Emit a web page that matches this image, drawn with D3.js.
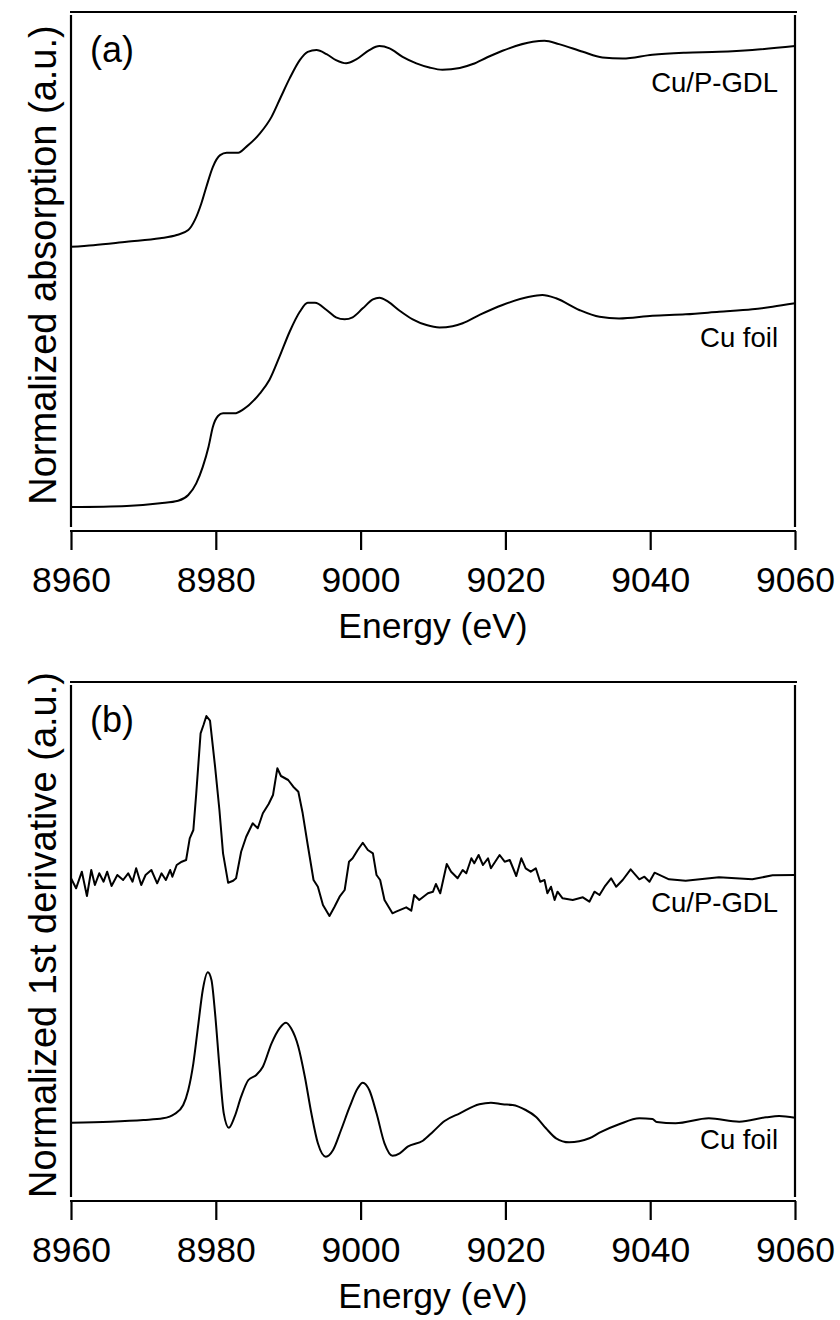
<!DOCTYPE html>
<html>
<head>
<meta charset="utf-8">
<script src="https://cdn.jsdelivr.net/npm/d3@7"></script>
<style>
  body { margin: 0; background: #fff; }
  svg text { font-family: "Liberation Sans", Arial, Helvetica, sans-serif; fill: #000; }
</style>
</head>
<body>
<div id="wrapper"></div>
<script>
// energy axis ticks
const energyTicks = [8960, 8980, 9000, 9020, 9040, 9060];

// (a) XANES, Cu foil
const foilXanesE = [8960, 8967.7, 8972.3, 8974.8, 8976.2, 8977.3, 8978.2, 8979, 8979.6, 8980.3, 8981, 8982.6, 8983.8,
  8986.1, 8987.4, 8988.8, 8990.2, 8991.6, 8992.7, 8993.7, 8995.3, 8996.6, 8997.8, 8998.9, 9000.3, 9001.7, 9002.6,
  9003.8, 9005.4, 9007.2, 9009.1, 9010.9, 9012.7, 9014.1, 9016.5, 9019.6, 9023.3, 9025.1, 9027, 9030.2, 9033, 9035.7,
  9040.3, 9044.9, 9049.5, 9054.1, 9056.9, 9060];
const foilXanesMu = [0.011, 0.017, 0.032, 0.046, 0.078, 0.143, 0.235, 0.347, 0.458, 0.518, 0.533, 0.533, 0.555,
  0.644, 0.718, 0.848, 0.987, 1.098, 1.148, 1.148, 1.108, 1.067, 1.056, 1.067, 1.117, 1.167, 1.176,
  1.154, 1.104, 1.056, 1.024, 1.011, 1.018, 1.034, 1.082, 1.136, 1.182, 1.191, 1.173, 1.108, 1.070, 1.061,
  1.076, 1.084, 1.098, 1.112, 1.126, 1.145];

// (a) XANES, Cu/P-GDL
const gdlXanesE = [8960, 8963.1, 8967.7, 8972.3, 8974.6, 8976.2, 8977.1, 8978, 8978.7, 8979.6, 8980.6, 8981.5, 8983.1,
  8984.2, 8986.1, 8987.7, 8989, 8990.2, 8991.6, 8992.7, 8993.9, 8995.3, 8996.6, 8998, 8999.4, 9001.2, 9002.6,
  9004, 9005.8, 9007.7, 9009.5, 9011.3, 9013.7, 9015.5, 9017.5, 9019.6, 9023.8, 9025.4, 9027.4, 9030.7, 9033.4, 9036.2,
  9040.3, 9044.9, 9049.5, 9054.1, 9060];
const gdlXanesMu = [0.013, 0.022, 0.041, 0.060, 0.078, 0.106, 0.161, 0.254, 0.347, 0.458, 0.523, 0.536, 0.536,
  0.569, 0.644, 0.736, 0.848, 0.950, 1.052, 1.098, 1.108, 1.085, 1.052, 1.034, 1.056, 1.108, 1.130,
  1.117, 1.070, 1.034, 1.011, 0.998, 1.008, 1.030, 1.068, 1.104, 1.154, 1.159, 1.141, 1.098, 1.067, 1.061,
  1.082, 1.093, 1.098, 1.108, 1.130];

// (b) first derivative, Cu foil
const foilDerivE = [8960, 8965.4, 8970, 8972.7, 8974.3, 8975.5, 8976.2, 8976.9, 8977.6, 8978.2, 8978.9, 8979.4, 8979.9,
  8980.5, 8981.1, 8981.8, 8982.6, 8983.5, 8984.5, 8985.6, 8986.5, 8987.7, 8988.8, 8989.7, 8990.4, 8991.4, 8992.3,
  8993.2, 8994.1, 8995.2, 8996.2, 8997.3, 8998.5, 8999.6, 9000.3, 9001.2, 9002.2, 9003.3, 9004.4, 9005.4, 9006.5,
  9008.6, 9010, 9011.6, 9013.7, 9016.4, 9018, 9019.6, 9021, 9022.8, 9024.2, 9025.6, 9027, 9028.8, 9031.6, 9033,
  9035.7, 9038.5, 9040.3, 9040.9, 9043.5, 9048.1, 9052.3, 9056, 9057.8, 9060];
const foilDerivVal = [-0.007, 0.003, 0.02, 0.037, 0.08, 0.17, 0.32, 0.587, 0.987, 1.32, 1.497, 1.42, 1.087,
  0.553, 0.087, -0.057, 0.053, 0.253, 0.42, 0.47, 0.553, 0.787, 0.937, 0.993, 0.937, 0.753, 0.453,
  0.087, -0.213, -0.347, -0.28, -0.08, 0.153, 0.337, 0.393, 0.32, 0.087, -0.213, -0.337, -0.313, -0.247,
  -0.187, -0.097, 0.01, 0.087, 0.177, 0.193, 0.177, 0.17, 0.12, 0.053, -0.063, -0.163, -0.203, -0.163, -0.107,
  -0.023, 0.037, 0.03, 0, -0.013, 0.037, 0.003, 0.047, 0.06, 0.043];

// (b) first derivative, Cu/P-GDL
const gdlDerivE = [8960, 8960.7, 8961.5, 8962.2, 8962.8, 8963.3, 8963.9, 8964.5, 8965, 8965.6, 8966.4, 8967.2, 8967.9,
  8968.5, 8969, 8969.7, 8970.3, 8971.1, 8971.9, 8972.5, 8973.1, 8973.7, 8974, 8974.6, 8975.3, 8975.9, 8976.4,
  8976.9, 8977.3, 8977.9, 8978.3, 8978.7, 8979.2, 8979.9, 8980.5, 8981, 8981.7, 8982.4, 8982.8, 8983.5, 8984.2,
  8985.1, 8985.8, 8986.5, 8987.3, 8987.9, 8988.5, 8989, 8990, 8990.7, 8991.4, 8992, 8992.7, 8993.5, 8994.1,
  8994.8, 8995.7, 8996.4, 8997.1, 8997.8, 8998.4, 8998.9, 8999.6, 9000.3, 9001, 9001.7, 9002.2, 9002.7, 9003.3,
  9004.4, 9004.9, 9006.3, 9007, 9007.4, 9008.1, 9009.3, 9010, 9010.4, 9011, 9011.9, 9012.5, 9013.4, 9014.1,
  9014.6, 9015.3, 9015.7, 9016.3, 9016.9, 9017.6, 9018, 9019.2, 9019.9, 9020.6, 9021.5, 9022.2, 9022.8, 9023.5,
  9024.2, 9024.8, 9025.4, 9025.8, 9026.3, 9026.8, 9027.2, 9027.9, 9029.3, 9030.7, 9031.6, 9032.3, 9033, 9033.7,
  9034.6, 9035.3, 9036.2, 9037.3, 9038.5, 9039.2, 9039.9, 9040.6, 9042.6, 9044.9, 9049.5, 9054.1, 9056.9, 9060];
const gdlDerivVal = [-0.003, -0.103, 0.063, -0.18, 0.08, -0.07, 0.047, -0.037, 0.063, -0.08, 0.03, -0.02, 0.047,
  -0.037, 0.097, -0.07, 0.03, 0.08, -0.053, 0.047, -0.02, 0.08, 0.013, 0.13, 0.163, 0.18, 0.397,
  0.48, 0.847, 1.447, 1.53, 1.62, 1.573, 1.113, 0.68, 0.247, -0.047, -0.027, -0.003, 0.263, 0.413,
  0.547, 0.497, 0.647, 0.74, 0.83, 1.097, 1.02, 0.98, 0.913, 0.863, 0.647, 0.33, -0.02, -0.087,
  -0.27, -0.38, -0.287, -0.187, -0.12, 0.163, 0.197, 0.28, 0.353, 0.28, 0.247, 0.03, -0.02, -0.22,
  -0.353, -0.337, -0.293, -0.327, -0.17, -0.22, -0.153, -0.137, -0.06, -0.153, 0.14, 0.063, -0.003, 0.08,
  0.047, 0.197, 0.147, 0.23, 0.13, 0.197, 0.097, 0.23, 0.163, 0.18, 0.02, 0.197, 0.097, 0.063,
  0.097, -0.037, -0.02, -0.153, -0.087, -0.22, -0.137, -0.203, -0.22, -0.193, -0.237, -0.137, -0.17, -0.087,
  -0.003, -0.087, -0.02, 0.087, -0.013, 0.013, -0.037, 0.053, -0.013, -0.027, 0.007, -0.013, 0.027, 0.03];

// vertical stacking offsets of the Cu/P-GDL spectra
const gdlXanesOffset = 1.447;
const gdlDerivOffset = 2.44;

const panels = [
  {
    tag: "(a)",
    yLabel: "Normalized absorption (a.u.)",
    yDomain: [-0.1, 2.75],
    series: [
      { name: "Cu/P-GDL", e: gdlXanesE, v: gdlXanesMu, offset: gdlXanesOffset, smooth: true, labelDy: 46 },
      { name: "Cu foil", e: foilXanesE, v: foilXanesMu, offset: 0, smooth: true, labelDy: 44 },
    ],
  },
  {
    tag: "(b)",
    yLabel: "Normalized 1st derivative (a.u.)",
    yDomain: [-0.75, 4.37],
    series: [
      { name: "Cu/P-GDL", e: gdlDerivE, v: gdlDerivVal, offset: gdlDerivOffset, smooth: false, labelDy: 37 },
      { name: "Cu foil", e: foilDerivE, v: foilDerivVal, offset: 0, smooth: true, labelDy: 31 },
    ],
  },
];

function drawFigure() {
  const dimensions = {
    width: 840,
    height: 1320,
    panelStep: 670,
    left: 71,
    right: 795,
    frameTop: 12,
    plotTop: 15,
    plotBottom: 527,
    axisY: 531,
  };

  const svg = d3.select("#wrapper")
    .append("svg")
    .attr("width", dimensions.width)
    .attr("height", dimensions.height);

  const xScale = d3.scaleLinear()
    .domain([8960, 9060])
    .range([dimensions.left, dimensions.right]);

  panels.forEach((panel, i) => {
    const g = svg.append("g")
      .attr("transform", `translate(0, ${i * dimensions.panelStep})`);

    const yScale = d3.scaleLinear()
      .domain(panel.yDomain)
      .range([dimensions.plotBottom, dimensions.plotTop]);

    // frame: top, left, right
    g.append("line")
      .attr("x1", dimensions.left - 1).attr("x2", dimensions.right + 2)
      .attr("y1", dimensions.frameTop).attr("y2", dimensions.frameTop)
      .attr("stroke", "#000").attr("stroke-width", 2.2);
    [dimensions.left, dimensions.right].forEach(x => {
      g.append("line")
        .attr("x1", x).attr("x2", x)
        .attr("y1", dimensions.plotTop).attr("y2", dimensions.plotBottom)
        .attr("stroke", "#000").attr("stroke-width", 2.2);
    });

    // energy axis
    const xAxis = d3.axisBottom(xScale)
      .tickValues(energyTicks)
      .tickFormat(d3.format("d"))
      .tickSizeOuter(0)
      .tickSize(19)
      .tickPadding(17);

    const ax = g.append("g")
      .attr("transform", `translate(0, ${dimensions.axisY})`)
      .call(xAxis);
    ax.select(".domain")
      .attr("stroke", "#000").attr("stroke-width", 2.2)
      .attr("d", `M${dimensions.left - 1},0H${dimensions.right + 1}`);
    ax.selectAll(".tick line").attr("stroke", "#000").attr("stroke-width", 2.2);
    ax.selectAll(".tick text")
      .attr("font-size", 35.5)
      .attr("font-family", "'Liberation Sans', Arial, sans-serif")
      .attr("fill", "#000");

    g.append("text")
      .attr("x", (dimensions.left + dimensions.right) / 2)
      .attr("y", 638)
      .attr("text-anchor", "middle")
      .attr("font-size", 35.5)
      .text("Energy (eV)");

    g.append("text")
      .attr("transform", `translate(56, ${(dimensions.plotTop + dimensions.plotBottom) / 2 - 6}) rotate(-90)`)
      .attr("text-anchor", "middle")
      .attr("font-size", 38)
      .text(panel.yLabel);

    g.append("text")
      .attr("x", 90)
      .attr("y", 62)
      .attr("font-size", 36)
      .text(panel.tag);

    // spectra
    panel.series.forEach(s => {
      const data = d3.zip(s.e, s.v);
      const line = d3.line()
        .x(d => xScale(d[0]))
        .y(d => yScale(d[1] + s.offset))
        .curve(s.smooth ? d3.curveMonotoneX : d3.curveLinear);

      g.append("path")
        .datum(data)
        .attr("fill", "none")
        .attr("stroke", "#000")
        .attr("stroke-width", 2)
        .attr("stroke-linejoin", "round")
        .attr("d", line);

      const last = data[data.length - 1];
      g.append("text")
        .attr("x", dimensions.right - 17)
        .attr("y", yScale(last[1] + s.offset) + s.labelDy)
        .attr("text-anchor", "end")
        .attr("font-size", 27.5)
        .text(s.name);
    });
  });
}

drawFigure();
</script>
</body>
</html>
